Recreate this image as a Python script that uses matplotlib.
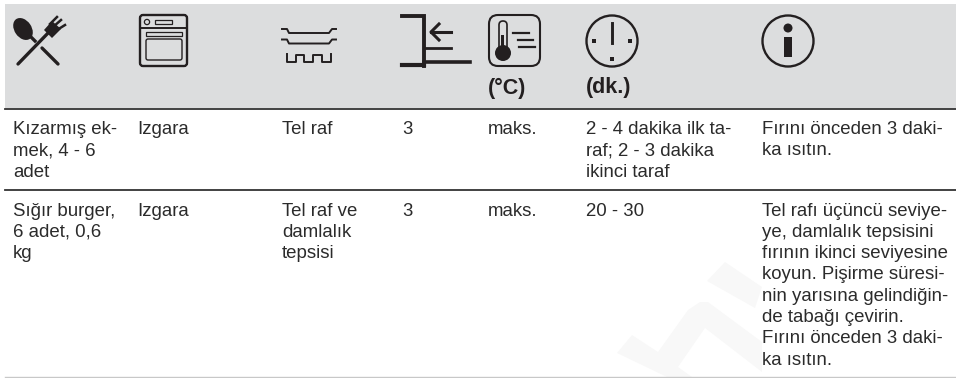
import matplotlib
matplotlib.use("Agg")
import matplotlib.pyplot as plt
from matplotlib.patches import Rectangle, FancyBboxPatch, Circle, Polygon, Ellipse

plt.rcParams['font.family'] = ['Liberation Sans', 'DejaVu Sans']

col_x = [13, 137, 282, 402, 488, 586, 762]
units = {4: "(°C)", 5: "(dk.)"}
row_1 = ["Kızarmış ek-\nmek, 4 - 6\nadet", "Izgara", "Tel raf", "3", "maks.",
         "2 - 4 dakika ilk ta-\nraf; 2 - 3 dakika\nikinci taraf",
         "Fırını önceden 3 daki-\nka ısıtın."]
row_2 = ["Sığır burger,\n6 adet, 0,6\nkg", "Izgara", "Tel raf ve\ndamlalık\ntepsisi", "3", "maks.",
         "20 - 30",
         "Tel rafı üçüncü seviye-\nye, damlalık tepsisini\nfırının ikinci seviyesine\nkoyun. Pişirme süresi-\nnin yarısına gelindiğin-\nde tabağı çevirin.\nFırını önceden 3 daki-\nka ısıtın."]
row_tops = [121, 202.5]

INK = "#231f20"
fig = plt.figure(figsize=(9.56, 3.78), dpi=100)
ax = fig.add_axes([0, 0, 1, 1])
ax.set_xlim(0, 956)
ax.set_ylim(378, 0)
ax.axis("off")

# filigran
ax.add_patch(Polygon([[617, 353], [632, 335], [658, 352], [688, 310], [700, 302], [708, 302], [762, 342],
                      [762, 372], [705, 328], [678, 367], [692, 377], [667, 377]], fc="#f8f8f8", ec="none"))
ax.add_patch(Polygon([[725, 262], [762, 287], [755, 308], [707, 281]], fc="#f8f8f8", ec="none"))

# baslik
ax.add_patch(Rectangle((5, 4), 951, 104, fc="#dcddde", ec="none"))
ax.plot([5, 956], [109, 109], color="#333333", lw=1.3)
ax.plot([5, 956], [190, 190], color="#333333", lw=1.3)
ax.plot([5, 956], [377, 377], color="#c8c8c8", lw=1)

# kasik ve catal
ax.add_patch(Ellipse((23, 29), 17, 24, angle=-35, fc=INK, ec="none"))
ax.plot([30, 35], [36, 41], color=INK, lw=2.4)
ax.plot([42, 58], [48, 64], color=INK, lw=2.4, solid_capstyle="round")
ax.plot([18, 50], [64, 31], color=INK, lw=2.4, solid_capstyle="round")
ax.add_patch(Polygon([[44, 30], [52, 21], [61, 29], [52, 38]], fc=INK, ec="none"))
ax.plot([50, 57], [24, 17], color=INK, lw=1.8)
ax.plot([53, 61], [27, 20], color=INK, lw=1.8)
ax.plot([57, 65], [30, 25], color=INK, lw=1.8)

# firin
ax.add_patch(FancyBboxPatch((140, 15), 47, 51, boxstyle="round,pad=0,rounding_size=3", fc="none", ec=INK, lw=1.7))
ax.plot([140, 187], [27.5, 27.5], color=INK, lw=1.4)
ax.add_patch(Circle((147, 22), 2.6, fc="none", ec=INK, lw=0.9))
ax.add_patch(Rectangle((155, 20), 17, 4, fc="none", ec=INK, lw=0.9))
ax.add_patch(Rectangle((146, 32), 36, 3.5, fc="none", ec=INK, lw=0.9))
ax.add_patch(FancyBboxPatch((146, 39), 36, 21, boxstyle="round,pad=0,rounding_size=2", fc="none", ec=INK, lw=1))

# tel raf
for y in (33, 43.5):
    ax.plot([282, 287, 289, 329, 332, 336], [y - 4, y - 4, y, y, y - 4, y - 4], color=INK, lw=1.4)
ax.plot([287, 287, 296, 296, 304, 304, 313, 313, 322, 322, 331, 331],
        [54, 62, 62, 55, 55, 62, 62, 55, 55, 62, 62, 54], color=INK, lw=1.4)

# seviye
ax.plot([402, 424, 424], [16, 16, 66], color=INK, lw=2.8, solid_joinstyle="miter")
ax.plot([402, 424], [65, 65], color=INK, lw=3)
ax.plot([424, 470], [61.5, 61.5], color=INK, lw=2.6)
ax.plot([424, 451], [48, 48], color=INK, lw=2)
ax.plot([431, 451], [32, 32], color=INK, lw=2.2)
ax.plot([439, 431, 439], [24, 32, 40], color=INK, lw=2.2)

# sicaklik
ax.add_patch(FancyBboxPatch((489, 15), 51, 51, boxstyle="round,pad=0,rounding_size=9", fc="none", ec=INK, lw=1.5))
ax.add_patch(FancyBboxPatch((499, 21), 8, 30, boxstyle="round,pad=0,rounding_size=4", fc="none", ec=INK, lw=1.2))
ax.add_patch(Circle((503, 53), 8, fc=INK, ec="none"))
ax.add_patch(Rectangle((501.5, 35), 3, 14, fc=INK, ec="none"))
for y, x0, x1 in [(33, 513, 529), (40, 518, 533), (47, 519, 535)]:
    ax.plot([x0, x1], [y, y], color=INK, lw=1.6)

# saat
ax.add_patch(Circle((612, 41), 25.5, fc="none", ec=INK, lw=1.7))
ax.plot([612, 612], [23, 43], color=INK, lw=2.1)
for x, y in [(594, 41), (630, 41), (612, 59)]:
    ax.add_patch(Rectangle((x - 1.8, y - 1.8), 3.6, 3.6, fc=INK, ec="none"))

# bilgi
ax.add_patch(Circle((788, 41), 25.5, fc="none", ec=INK, lw=1.7))
ax.add_patch(Circle((788, 28), 4.5, fc=INK, ec="none"))
ax.add_patch(Rectangle((784, 37), 8, 20, fc=INK, ec="none"))

for i, u in units.items():
    ax.text(col_x[i], 88, u, fontsize=15.5, fontweight="bold", color=INK, va="center")

for top, row in zip(row_tops, [row_1, row_2]):
    for x, cell in zip(col_x, row):
        ax.text(x, top, cell, fontsize=13.4, color="#2b2b2b", va="top", ha="left", linespacing=1.33)

fig.savefig("out.png", dpi=100)
